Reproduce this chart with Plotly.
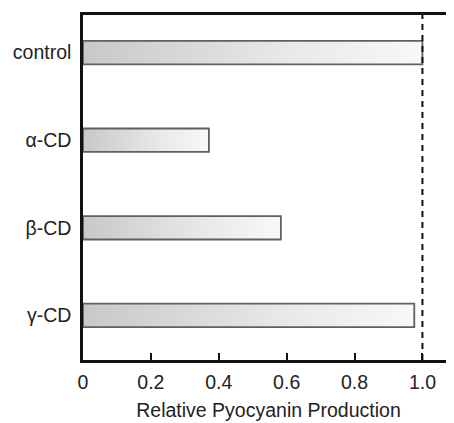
import plotly.graph_objects as go

categories = ["control", "α-CD", "β-CD", "γ-CD"]
values = [1.0, 0.371, 0.583, 0.976]
x_tick_vals = [0, 0.2, 0.4, 0.6, 0.8, 1.0]
x_tick_text = ["0", "0.2", "0.4", "0.6", "0.8", "1.0"]
reference_level = 1.0
x_title = "Relative Pyocyanin Production"

FONT = "Liberation Sans, Arial, sans-serif"
BAR_HALF = 0.134
n = len(categories)
ypos = [n - 1 - i for i in range(n)]

fig = go.Figure()
for cat, v, y in zip(categories, values, ypos):
    xs = [0, v, v, 0, 0]
    ys = [y - BAR_HALF, y - BAR_HALF, y + BAR_HALF, y + BAR_HALF, y - BAR_HALF]
    fig.add_trace(go.Scatter(
        x=xs, y=ys, mode="lines", fill="toself", name=cat,
        line=dict(color="#606060", width=1.8),
        fillgradient=dict(type="horizontal",
                          colorscale=[[0, "#c8c8c8"], [0.6, "#e8e8e8"], [1, "#f8f8f8"]]),
        hoverinfo="skip", showlegend=False,
    ))

fig.add_shape(type="line", xref="x", yref="paper",
              x0=reference_level, x1=reference_level, y0=0, y1=1,
              line=dict(color="#111111", width=2, dash="6px,5px"), layer="above")

fig.update_layout(
    width=446, height=415,
    margin=dict(l=75, r=0, t=7, b=63, autoexpand=False),
    paper_bgcolor="white", plot_bgcolor="white",
    font=dict(family=FONT, size=19.5, color="#222222"),
    showlegend=False,
)
fig.update_xaxes(
    range=[0, 1.093], showgrid=False, zeroline=False,
    showline=True, linecolor="#111111", linewidth=2.5, mirror=True,
    ticks="inside", ticklen=7, tickwidth=2, tickcolor="#111111",
    tickvals=x_tick_vals, ticktext=x_tick_text,
    tickfont=dict(family=FONT, size=19.5, color="#222222"),
    ticklabelstandoff=3, automargin=False,
    title=dict(text=x_title, font=dict(family=FONT, size=19.5, color="#222222"), standoff=12),
)
fig.update_yaxes(
    range=[-0.51, 3.43], showgrid=False, zeroline=False,
    showline=True, linecolor="#111111", linewidth=2.5, mirror=False,
    ticks="", tickvals=ypos, ticktext=categories,
    tickfont=dict(family=FONT, size=19.5, color="#222222"),
    ticklabelstandoff=5, automargin=False,
)

fig.write_html("out.html")
